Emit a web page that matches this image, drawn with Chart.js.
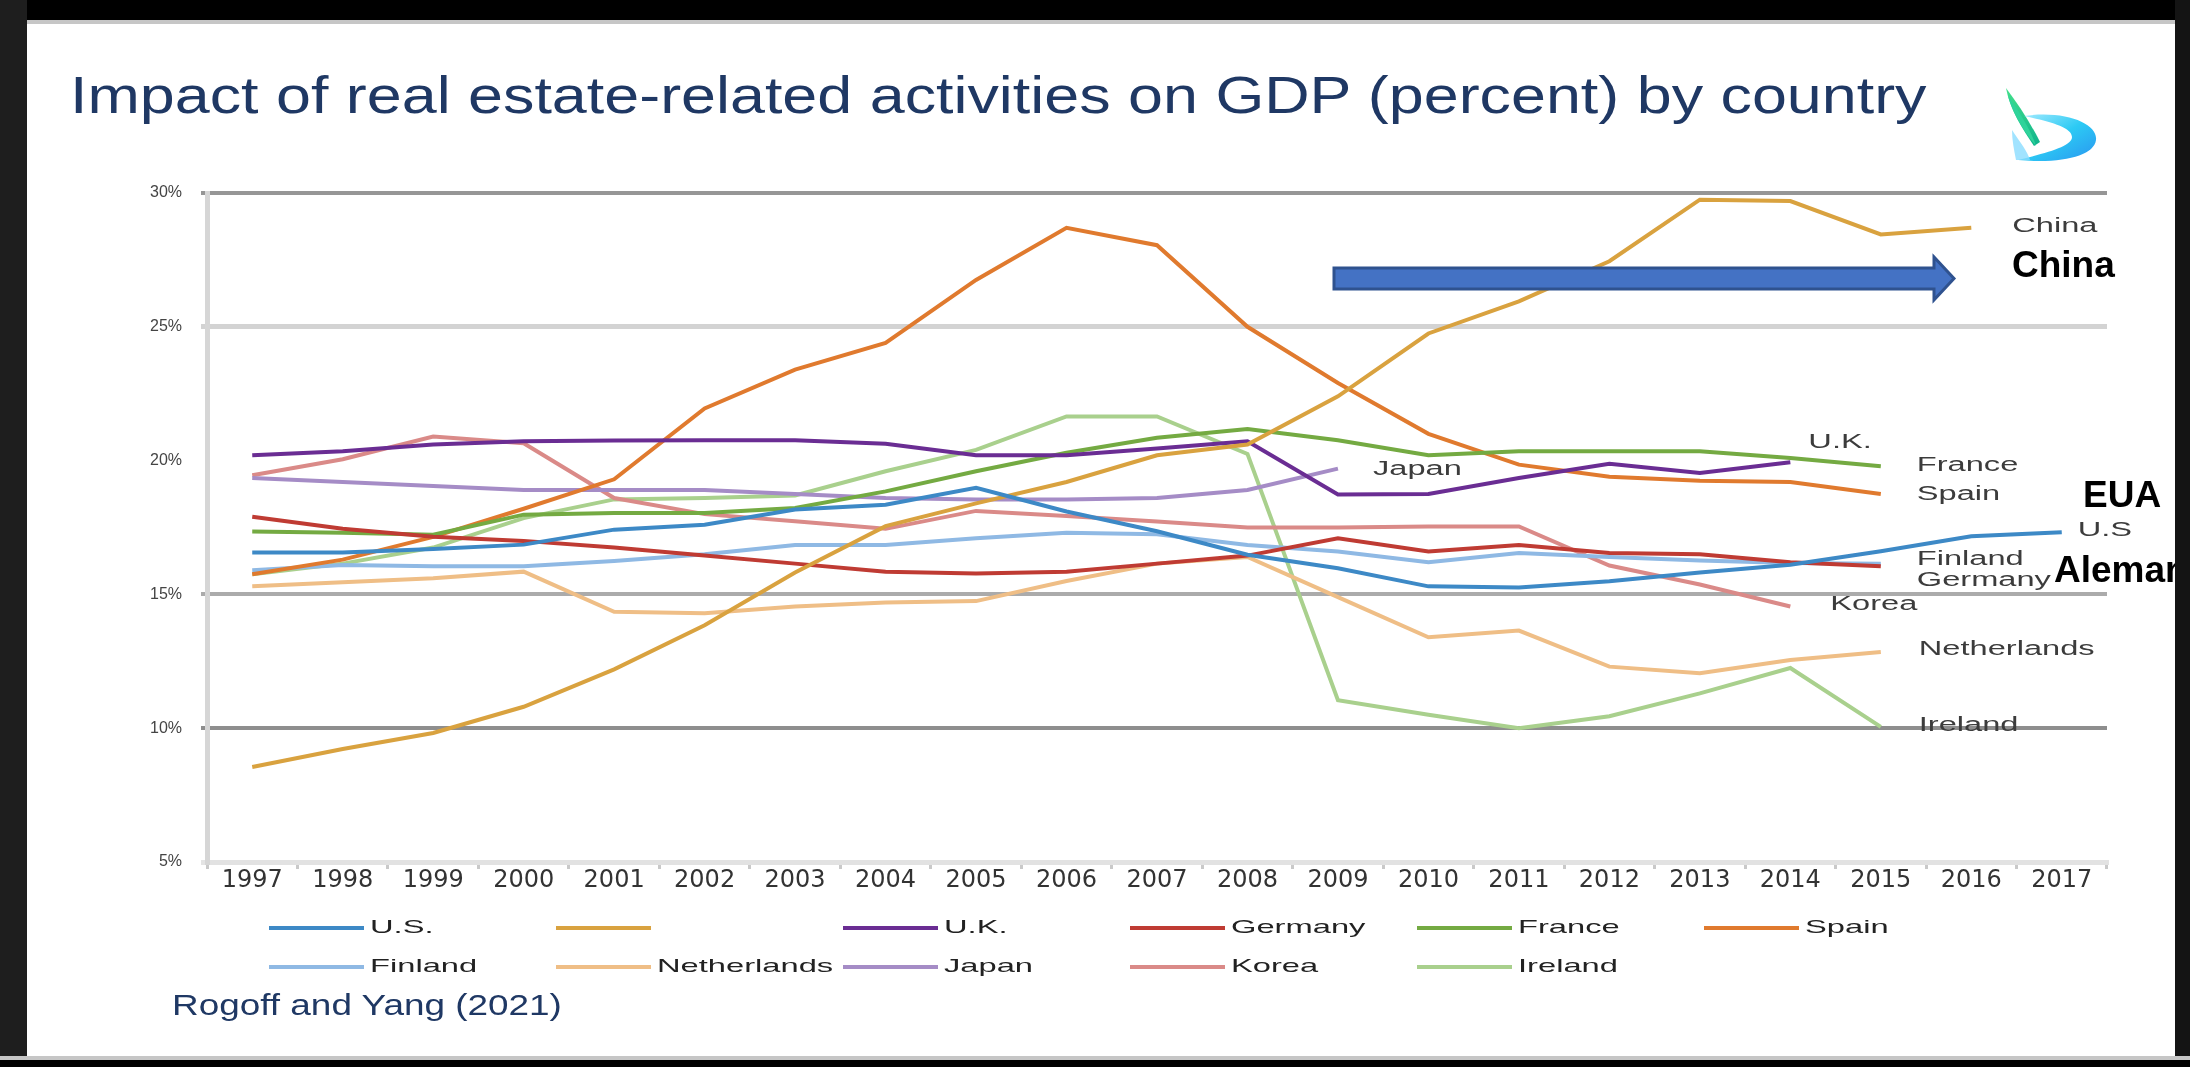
<!DOCTYPE html>
<html>
<head>
<meta charset="utf-8">
<script src="https://cdn.jsdelivr.net/npm/chart.js@4.4.1/dist/chart.umd.min.js"></script>
<style>
html,body{margin:0;padding:0;background:#fff;width:2190px;height:1067px;overflow:hidden;}
#wrap{position:relative;width:2190px;height:1067px;background:#fff;overflow:hidden;}
#chart{position:absolute;left:0;top:0;}
.abs{position:absolute;white-space:nowrap;}
#title{left:70px;top:69px;font-family:"Liberation Sans",Arial,sans-serif;font-size:52px;line-height:52px;color:#1f3864;transform-origin:0 0;}
#source{left:172px;top:990px;font-family:"Liberation Sans",Arial,sans-serif;font-size:30px;line-height:30px;color:#1f3864;transform-origin:0 0;}
.bold{font-family:"Liberation Sans",Arial,sans-serif;font-weight:bold;font-size:37px;line-height:37px;color:#000;}
.band{position:absolute;}
</style>
</head>
<body>
<div id="wrap">
  <canvas id="chart" width="2190" height="1067"></canvas>
  <div id="title" class="abs">Impact of real estate-related activities on GDP (percent) by country</div>
  <div id="source" class="abs">Rogoff and Yang (2021)</div>
  <svg class="abs" style="left:0;top:0" width="2190" height="1067" viewBox="0 0 2190 1067">
    <defs>
      <linearGradient id="lg1" x1="0" y1="0" x2="0" y2="1">
        <stop offset="0" stop-color="#43e08a"/><stop offset="1" stop-color="#0fb38c"/>
      </linearGradient>
      <linearGradient id="lg2" x1="0" y1="0" x2="1" y2="1">
        <stop offset="0" stop-color="#a8ecff"/><stop offset="0.5" stop-color="#2ccaf4"/><stop offset="1" stop-color="#2a95f0"/>
      </linearGradient>
    </defs>
    <!-- logo -->
    <path d="M2006,88 C2018,104 2030,122 2040,142 L2034,146 C2022,128 2010,110 2006,88 Z" fill="url(#lg1)"/>
    <path d="M2008,96 C2012,112 2024,132 2036,146 C2030,128 2018,110 2008,96 Z" fill="#2fd39a"/>
    <path d="M2024,116 C2066,110 2098,124 2096,140 C2094,156 2062,164 2018,160 C2050,152 2072,146 2072,137 C2072,127 2048,121 2024,116 Z" fill="url(#lg2)"/>
    <path d="M2012,130 C2020,142 2028,152 2030,160 L2016,160 C2014,150 2012,140 2012,130 Z" fill="#8adcff" opacity="0.8"/>
    <!-- arrow -->
    <polygon points="1334,268 1934,268 1934,257 1954,278.5 1934,300 1934,289 1334,289" fill="#4472c4" stroke="#2f528f" stroke-width="3" stroke-linejoin="miter"/>
  </svg>
  <div class="abs bold" style="left:2012px;top:246px;">China</div>
  <div class="abs bold" style="left:2083px;top:476px;">EUA</div>
  <div class="abs bold" style="left:2054px;top:551px;">Alemanha</div>
  <!-- frame -->
  <div class="band" style="left:0;top:0;width:2190px;height:20px;background:#000;"></div>
  <div class="band" style="left:0;top:20px;width:2190px;height:4px;background:#c6c6c6;"></div>
  <div class="band" style="left:0;top:0;width:27px;height:1067px;background:#1e1e1e;"></div>
  <div class="band" style="left:2175px;top:0;width:15px;height:1067px;background:#141414;"></div>
  <div class="band" style="left:0;top:1056px;width:2190px;height:4px;background:#c6c6c6;"></div>
  <div class="band" style="left:0;top:1060px;width:2190px;height:7px;background:#000;"></div>
</div>
<script>
// ---------- data ----------
const years = ['1997','1998','1999','2000','2001','2002','2003','2004','2005','2006','2007','2008','2009','2010','2011','2012','2013','2014','2015','2016','2017'];
const seriesNames = ['U.S.','China','U.K.','Germany','France','Spain','Finland','Netherlands','Japan','Korea','Ireland'];
const legendNames = ['U.S.','','U.K.','Germany','France','Spain','Finland','Netherlands','Japan','Korea','Ireland'];
const endLabels = ['U.S','China','U.K.','Germany','France','Spain','Finland','Netherlands','Japan','Korea','Ireland'];
const usValues = [16.57,16.57,16.7,16.86,17.42,17.6,18.17,18.35,18.98,18.1,17.36,16.48,15.98,15.3,15.26,15.49,15.82,16.11,16.61,17.17,17.32];
const chinaValues = [8.55,9.22,9.82,10.8,12.2,13.85,15.82,17.55,18.4,19.2,20.2,20.6,22.4,24.75,25.95,27.45,29.75,29.7,28.45,28.7];
const ukValues = [20.2,20.35,20.6,20.72,20.75,20.76,20.76,20.63,20.2,20.2,20.45,20.72,18.73,18.75,19.35,19.88,19.54,19.94];
const germanyValues = [17.9,17.45,17.15,17.0,16.75,16.45,16.15,15.85,15.78,15.85,16.15,16.45,17.1,16.6,16.85,16.55,16.5,16.2,16.05];
const franceValues = [17.35,17.3,17.23,17.98,18.04,18.04,18.23,18.85,19.6,20.29,20.85,21.18,20.76,20.2,20.35,20.35,20.35,20.1,19.79];
const spainValues = [15.75,16.3,17.15,18.2,19.3,21.95,23.4,24.4,26.75,28.7,28.05,25.0,22.9,21.0,19.85,19.4,19.25,19.2,18.75];
const finlandValues = [15.9,16.1,16.05,16.05,16.25,16.5,16.85,16.85,17.1,17.3,17.25,16.85,16.6,16.2,16.55,16.4,16.27,16.17,16.15];
const netherlandsValues = [15.3,15.45,15.6,15.85,14.35,14.3,14.55,14.7,14.75,15.5,16.15,16.4,14.9,13.4,13.65,12.3,12.05,12.55,12.85];
const japanValues = [19.35,19.2,19.05,18.9,18.9,18.9,18.75,18.6,18.55,18.55,18.6,18.9,19.7];
const koreaValues = [19.45,20.05,20.9,20.65,18.6,18.0,17.73,17.45,18.12,17.93,17.72,17.5,17.5,17.54,17.54,16.08,15.37,14.55];
const irelandValues = [15.75,16.15,16.75,17.85,18.55,18.6,18.7,19.6,20.4,21.65,21.65,20.25,11.05,10.5,10.0,10.45,11.3,12.25,10.05];
const yTickValues = [5,10,15,20,25,30];

// ---------- styling ----------
const valueLists = [usValues,chinaValues,ukValues,germanyValues,franceValues,spainValues,finlandValues,netherlandsValues,japanValues,koreaValues,irelandValues];
const colors = ['#3d89c6','#d9a23f','#6a2d93','#bf3b33','#74aa42','#e07a2e','#8fb9e4','#efbe86','#a58cc6','#da8a88','#a9d08d'];
const gridStyle = {30:['#969696',4],25:['#d3d3d3',5],20:['rgba(0,0,0,0)',1],15:['#ababab',4],10:['#8e8e8e',4],5:['#e4e4e4',5]};
const endLabelOffsets = {'U.S':[16,-2],'China':[41,-1],'U.K.':[18,-20],'Germany':[36,14],'France':[36,-1],'Spain':[36,0],'Finland':[36,-4],'Netherlands':[38,-2],'Japan':[35,1],'Korea':[40,-2],'Ireland':[38,-1]};

function stretchText(ctx, text, x, y, sx) {
  ctx.save();
  ctx.translate(x, y);
  ctx.scale(sx, 1);
  ctx.fillText(text, 0, 0);
  ctx.restore();
}

const overlayPlugin = {
  id: 'overlay',
  afterDraw(chart) {
    const ctx = chart.ctx;
    // end-of-line labels
    ctx.save();
    ctx.font = '20px "Liberation Sans", Arial, sans-serif';
    ctx.fillStyle = '#3c3c3c';
    ctx.textAlign = 'left';
    ctx.textBaseline = 'middle';
    endLabels.forEach((lab, i) => {
      const meta = chart.getDatasetMeta(i);
      const pts = meta.data;
      const last = pts[pts.length - 1];
      const off = endLabelOffsets[lab];
      stretchText(ctx, lab, last.x + off[0], last.y + off[1], 1.63);
    });
    ctx.restore();
    // legend
    ctx.save();
    ctx.font = '19px "Liberation Sans", Arial, sans-serif';
    ctx.fillStyle = '#222';
    ctx.textAlign = 'left';
    ctx.textBaseline = 'middle';
    chart.data.datasets.forEach((ds, i) => {
      const row = i < 6 ? 0 : 1;
      const col = i < 6 ? i : i - 6;
      const x0 = 269 + 287 * col;
      const y0 = row === 0 ? 928 : 967;
      ctx.strokeStyle = ds.borderColor;
      ctx.lineWidth = 4;
      ctx.beginPath();
      ctx.moveTo(x0, y0);
      ctx.lineTo(x0 + 95, y0);
      ctx.stroke();
      stretchText(ctx, legendNames[i], x0 + 101, y0, 1.72);
    });
    ctx.restore();
  }
};

const chart = new Chart(document.getElementById('chart'), {
  type: 'line',
  data: {
    labels: years,
    datasets: seriesNames.map((n, i) => ({
      label: n,
      data: valueLists[i],
      borderColor: colors[i],
      backgroundColor: colors[i],
      borderWidth: 4,
      pointRadius: 0,
      pointHoverRadius: 0,
      tension: 0,
      fill: false,
      spanGaps: false
    }))
  },
  options: {
    responsive: false,
    animation: false,
    devicePixelRatio: 1,
    layout: { padding: { left: 147, right: 83, top: 193, bottom: 155 } },
    plugins: { legend: { display: false }, title: { display: false }, tooltip: { enabled: false } },
    scales: {
      x: {
        type: 'category',
        offset: true,
        grid: { display: true, offset: true, drawOnChartArea: false, drawTicks: true, tickLength: 7, color: '#c9c9c9', lineWidth: 3 },
        border: { display: true, color: '#e2e2e2', width: 5 },
        ticks: { autoSkip: false, maxRotation: 0, minRotation: 0, padding: -3, color: '#333', font: { family: 'DejaVu Sans', size: 24 } },
        afterFit: (s) => { s.height = 50; }
      },
      y: {
        min: 5, max: 30,
        afterBuildTicks: (s) => { s.ticks = yTickValues.map(v => ({ value: v })); },
        grid: {
          drawTicks: true, tickLength: 6,
          color: (c) => (gridStyle[c.tick.value] || ['#ccc', 1])[0],
          lineWidth: (c) => (gridStyle[c.tick.value] || ['#ccc', 1])[1]
        },
        border: { display: true, color: '#d6d6d6', width: 5 },
        ticks: { padding: 19, color: '#444', font: { family: '"Liberation Sans", Arial, sans-serif', size: 16 }, callback: (v) => v + '%' },
        afterFit: (s) => { s.width = 60; }
      }
    }
  },
  plugins: [overlayPlugin]
});

// stretch title and source to the widths seen on the slide
(function () {
  const t = document.getElementById('title');
  t.style.transform = 'scaleX(' + (1857 / t.offsetWidth) + ')';
  const s = document.getElementById('source');
  s.style.transform = 'scaleX(' + (390 / s.offsetWidth) + ')';
})();
</script>
</body>
</html>
